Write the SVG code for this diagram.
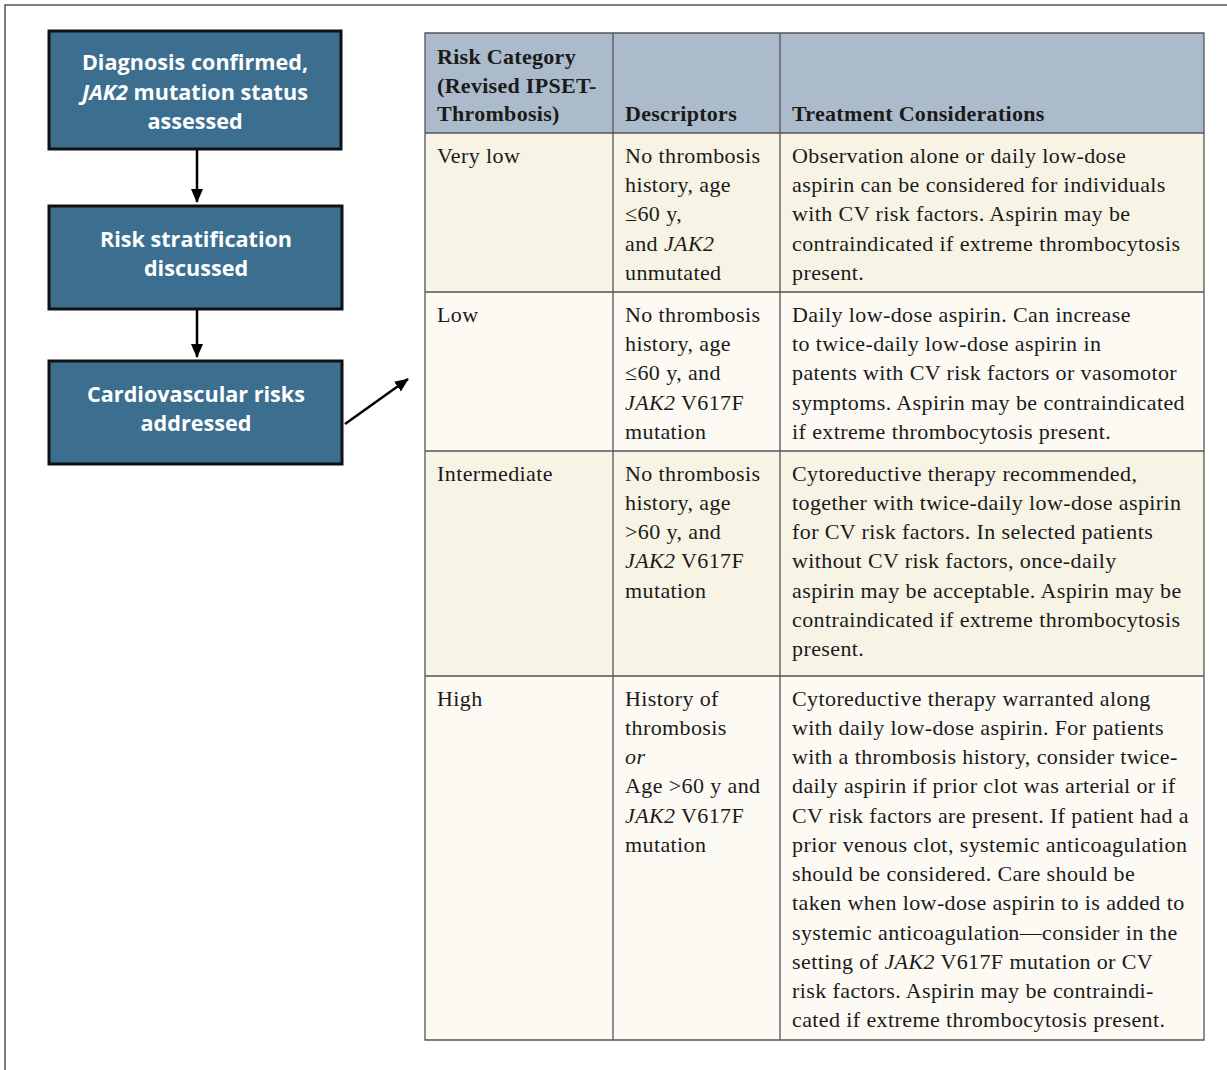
<svg xmlns="http://www.w3.org/2000/svg" width="1227" height="1070" viewBox="0 0 1227 1070">
<style>
.box{fill:#3c6e8f;stroke:#111;stroke-width:3}
.bt{font-family:"Open Sans","Liberation Sans",sans-serif;font-weight:bold;font-size:21.6px;fill:#fff;text-anchor:middle}
.t{font-family:"Liberation Serif",serif;font-size:22px;letter-spacing:0.4px;fill:#1a1a1a}
.h{font-family:"Liberation Serif",serif;font-size:22px;letter-spacing:0.3px;font-weight:bold;fill:#1a1a1a}
.i{font-style:italic}
.grid{stroke:#555;stroke-width:1.3;fill:none}
.conn{stroke:#000;stroke-width:2.5;fill:none}
</style>
<defs>
<marker id="ah" viewBox="0 0 14 12" refX="13" refY="6" markerWidth="14" markerHeight="12" orient="auto" markerUnits="userSpaceOnUse">
<path d="M0,0 L14,6 L0,12 z" fill="#000"/>
</marker>
</defs>
<rect width="1227" height="1070" fill="#fff"/>
<path d="M5,1070 V5 H1227" stroke="#555" stroke-width="1.5" fill="none"/>

<g id="node-diagnosis">
<rect class="box" x="49" y="31" width="292" height="118"/>
<text class="bt" x="195" y="70">Diagnosis confirmed,</text>
<text class="bt" x="195" y="100"><tspan font-style="italic">JAK2</tspan> mutation status</text>
<text class="bt" x="195" y="129">assessed</text>
</g>
<g id="node-risk">
<rect class="box" x="49" y="206" width="293" height="103"/>
<text class="bt" x="196" y="247">Risk stratification</text>
<text class="bt" x="196" y="276">discussed</text>
</g>
<g id="node-cv">
<rect class="box" x="49" y="361" width="293" height="103"/>
<text class="bt" x="196" y="402">Cardiovascular risks</text>
<text class="bt" x="196" y="431">addressed</text>
</g>

<g id="connectors">
<line class="conn" x1="197" y1="150" x2="197" y2="202" marker-end="url(#ah)"/>
<line class="conn" x1="197" y1="310" x2="197" y2="357" marker-end="url(#ah)"/>
<line class="conn" x1="345" y1="424" x2="408" y2="379" marker-end="url(#ah)"/>
</g>

<g id="table">
<rect x="425" y="33" width="779" height="100" fill="#abbbcb"/>
<rect x="425" y="133" width="779" height="159" fill="#f7f4e5"/>
<rect x="425" y="292" width="779" height="159" fill="#fcfaf3"/>
<rect x="425" y="451" width="779" height="225" fill="#f7f4e5"/>
<rect x="425" y="676" width="779" height="364" fill="#fcfaf3"/>
<path class="grid" d="M425,33 H1204 V1040 H425 Z M613,33 V1040 M780,33 V1040 M425,133 H1204 M425,292 H1204 M425,451 H1204 M425,676 H1204"/>

<text class="h" x="437" y="64">Risk Category</text>
<text class="h" x="437" y="93">(Revised IPSET-</text>
<text class="h" x="437" y="121">Thrombosis)</text>
<text class="h" x="625" y="121">Descriptors</text>
<text class="h" x="792" y="121">Treatment Considerations</text>

<text class="t" x="437" y="163">Very low</text>
<text class="t" x="625" y="163">No thrombosis</text>
<text class="t" x="625" y="192">history, age</text>
<text class="t" x="625" y="221">≤60 y,</text>
<text class="t" x="625" y="251">and <tspan class="i">JAK2</tspan></text>
<text class="t" x="625" y="280">unmutated</text>
<text class="t" x="792" y="163">Observation alone or daily low-dose</text>
<text class="t" x="792" y="192">aspirin can be considered for individuals</text>
<text class="t" x="792" y="221">with CV risk factors. Aspirin may be</text>
<text class="t" x="792" y="251">contraindicated if extreme thrombocytosis</text>
<text class="t" x="792" y="280">present.</text>

<text class="t" x="437" y="322">Low</text>
<text class="t" x="625" y="322">No thrombosis</text>
<text class="t" x="625" y="351">history, age</text>
<text class="t" x="625" y="380">≤60 y, and</text>
<text class="t" x="625" y="410"><tspan class="i">JAK2</tspan> V617F</text>
<text class="t" x="625" y="439">mutation</text>
<text class="t" x="792" y="322">Daily low-dose aspirin. Can increase</text>
<text class="t" x="792" y="351">to twice-daily low-dose aspirin in</text>
<text class="t" x="792" y="380">patents with CV risk factors or vasomotor</text>
<text class="t" x="792" y="410">symptoms. Aspirin may be contraindicated</text>
<text class="t" x="792" y="439">if extreme thrombocytosis present.</text>

<text class="t" x="437" y="481">Intermediate</text>
<text class="t" x="625" y="481">No thrombosis</text>
<text class="t" x="625" y="510">history, age</text>
<text class="t" x="625" y="539">&gt;60 y, and</text>
<text class="t" x="625" y="568"><tspan class="i">JAK2</tspan> V617F</text>
<text class="t" x="625" y="598">mutation</text>
<text class="t" x="792" y="481">Cytoreductive therapy recommended,</text>
<text class="t" x="792" y="510">together with twice-daily low-dose aspirin</text>
<text class="t" x="792" y="539">for CV risk factors. In selected patients</text>
<text class="t" x="792" y="568">without CV risk factors, once-daily</text>
<text class="t" x="792" y="598">aspirin may be acceptable. Aspirin may be</text>
<text class="t" x="792" y="627">contraindicated if extreme thrombocytosis</text>
<text class="t" x="792" y="656">present.</text>

<text class="t" x="437" y="706">High</text>
<text class="t" x="625" y="706">History of</text>
<text class="t" x="625" y="735">thrombosis</text>
<text class="t i" x="625" y="764">or</text>
<text class="t" x="625" y="793">Age &gt;60 y and</text>
<text class="t" x="625" y="823"><tspan class="i">JAK2</tspan> V617F</text>
<text class="t" x="625" y="852">mutation</text>
<text class="t" x="792" y="706">Cytoreductive therapy warranted along</text>
<text class="t" x="792" y="735">with daily low-dose aspirin. For patients</text>
<text class="t" x="792" y="764">with a thrombosis history, consider twice-</text>
<text class="t" x="792" y="793">daily aspirin if prior clot was arterial or if</text>
<text class="t" x="792" y="823">CV risk factors are present. If patient had a</text>
<text class="t" x="792" y="852">prior venous clot, systemic anticoagulation</text>
<text class="t" x="792" y="881">should be considered. Care should be</text>
<text class="t" x="792" y="910">taken when low-dose aspirin to is added to</text>
<text class="t" x="792" y="940">systemic anticoagulation—consider in the</text>
<text class="t" x="792" y="969">setting of <tspan class="i">JAK2</tspan> V617F mutation or CV</text>
<text class="t" x="792" y="998">risk factors. Aspirin may be contraindi-</text>
<text class="t" x="792" y="1027">cated if extreme thrombocytosis present.</text>
</g>
</svg>
